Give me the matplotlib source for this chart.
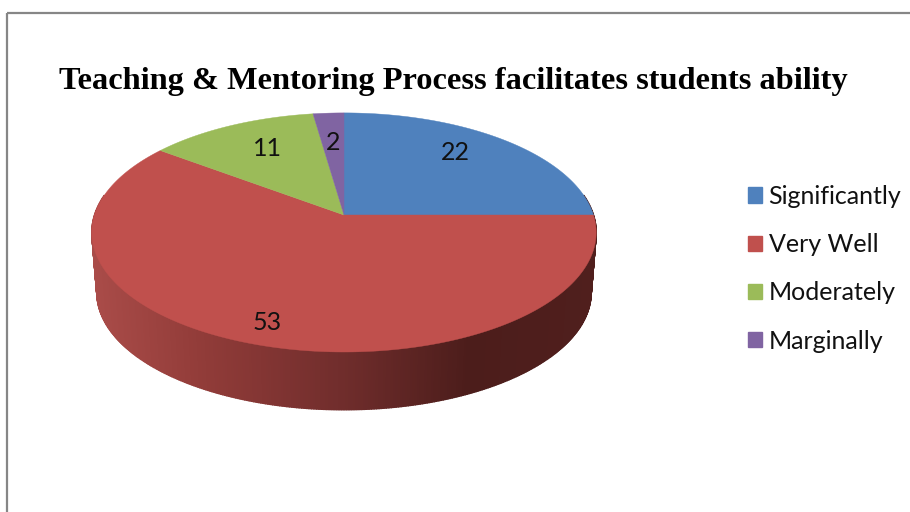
import matplotlib
matplotlib.use("Agg")
import matplotlib.pyplot as plt
import numpy as np
from matplotlib.patches import Patch, Polygon, Rectangle

labels = ["Significantly", "Very Well", "Moderately", "Marginally"]
values = [22, 53, 11, 2]
colors = ["#4f81bd", "#c0504d", "#9bbb59", "#8064a2"]
title = "Teaching & Mentoring Process facilitates students ability"

# side wall shading, x position in pixels -> colour
shade_x = [92, 200, 344, 470, 600]
shade_r = [170, 146, 112, 76, 80]
shade_g = [76, 60, 45, 29, 31]
shade_b = [73, 57, 44, 27, 29]

# pie geometry in pixels, tilted disc with the apex above the ellipse centre
cx, cy = 344, 215
a, b, k = 249.5, 117, -0.146
depth, shrink = 60.5, 0.98


def project(theta, scale=1.0, dy=0.0):
    u, v = np.cos(theta), np.sin(theta)
    d = 1 + k * v * -1
    x = cx + scale * a * u / d
    y = cy + dy - scale * b * v / d
    return np.column_stack([x, y])


fig = plt.figure(figsize=(9.1, 5.12), dpi=100)
ax = fig.add_axes([0, 0, 1, 1])
ax.set_xlim(0, 910)
ax.set_ylim(512, 0)
ax.axis("off")

# chart frame runs off the right and bottom edge
ax.add_patch(Rectangle((7, 12.5), 960, 560, fill=False, edgecolor="#868686", linewidth=1.6))

# side wall as narrow strips
steps = np.radians(np.linspace(170, 370, 401))
top = project(steps)
bottom = project(steps, shrink, depth)
for i in range(len(steps) - 1):
    quad = [top[i], top[i + 1], bottom[i + 1], bottom[i]]
    xm = (top[i][0] + top[i + 1][0]) / 2
    col = (np.interp(xm, shade_x, shade_r) / 255,
           np.interp(xm, shade_x, shade_g) / 255,
           np.interp(xm, shade_x, shade_b) / 255)
    ax.add_patch(Polygon(quad, closed=True, facecolor=col, edgecolor=col, linewidth=1.0))

# top face, clockwise from 12 o'clock
start = 90.0
for val, col in zip(values, colors):
    sweep = val / sum(values) * 360
    t = np.radians(np.linspace(start, start - sweep, 200))
    ax.add_patch(Polygon(np.vstack([[cx, cy], project(t)]), closed=True, facecolor=col,
                         edgecolor=col, linewidth=0.3))
    start -= sweep

# data labels
label_x = [455, 267, 267, 333]
label_y = [153, 323, 149, 143]
for x, y, val in zip(label_x, label_y, values):
    ax.text(x, y, str(val), ha="center", va="center", fontsize=18, family="Lato", color="#111111")

ax.text(453, 81, title, ha="center", va="center", fontsize=23.3, fontweight="bold",
        family="Liberation Serif", color="black")

handles = [Patch(facecolor=c, edgecolor=c) for c in colors]
ax.legend(handles, labels, loc="upper left", bbox_to_anchor=(0.822, 0.639), frameon=False,
          prop={"family": "Lato", "size": 18}, handlelength=0.56, handleheight=0.56,
          handletextpad=0.26, labelspacing=1.01, labelcolor="#111111", borderaxespad=0, borderpad=0)

fig.savefig("out.png", dpi=100)
